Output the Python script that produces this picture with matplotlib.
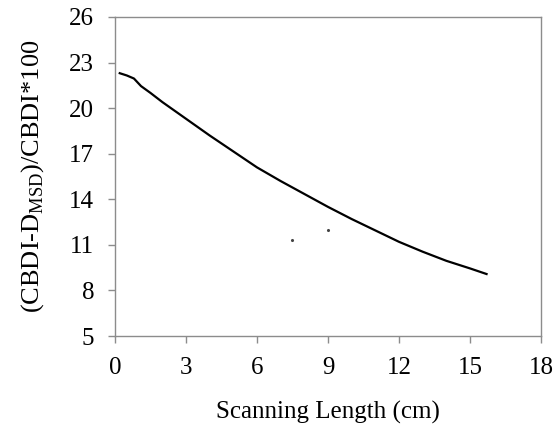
import matplotlib
matplotlib.use("Agg")
import matplotlib.pyplot as plt

plt.rcParams['font.family'] = ['Liberation Serif', 'DejaVu Serif']
plt.rcParams['mathtext.fontset'] = 'custom'
plt.rcParams['mathtext.rm'] = 'Liberation Serif'

scan_length = [0.2, 0.5, 0.8, 0.95, 1.1, 1.5, 2, 3, 4, 5, 6, 7, 8, 9, 10, 11, 12, 13, 14, 15, 15.7]
ratio = [22.3, 22.15, 21.95, 21.7, 21.45, 21.0, 20.4, 19.3, 18.2, 17.15, 16.1, 15.2, 14.35, 13.5, 12.7, 11.95, 11.2, 10.55, 9.95, 9.45, 9.08]
stray_x = [7.5, 9.0]
stray_y = [11.3, 12.0]

x_ticks = [0, 3, 6, 9, 12, 15, 18]
y_ticks = [5, 8, 11, 14, 17, 20, 23, 26]

fig = plt.figure(figsize=(5.54, 4.25), dpi=100)
ax = fig.add_axes([0.2076, 0.2094, 0.7689, 0.7506])
ax.plot(scan_length, ratio, color='black', lw=1.6)
ax.scatter(stray_x, stray_y, s=1.5, color='#444444')
ax.set_xlim(0, 18)
ax.set_ylim(5, 26)
ax.set_xticks(x_ticks)
ax.set_yticks(y_ticks)
for s in ax.spines.values():
    s.set_color('#8c8c8c')
    s.set_linewidth(1.0)
ax.tick_params(direction='out', length=5, width=1.0, color='#8c8c8c',
               labelsize=18, pad=10, labelcolor='black')
ax.set_xlabel('Scanning Length (cm)', fontsize=18, labelpad=16)
ax.set_ylabel(r'(CBDI-D$_{\mathrm{MSD}}$)/CBDI*100', fontsize=19, labelpad=17)
fig.savefig('out.png', dpi=100)
